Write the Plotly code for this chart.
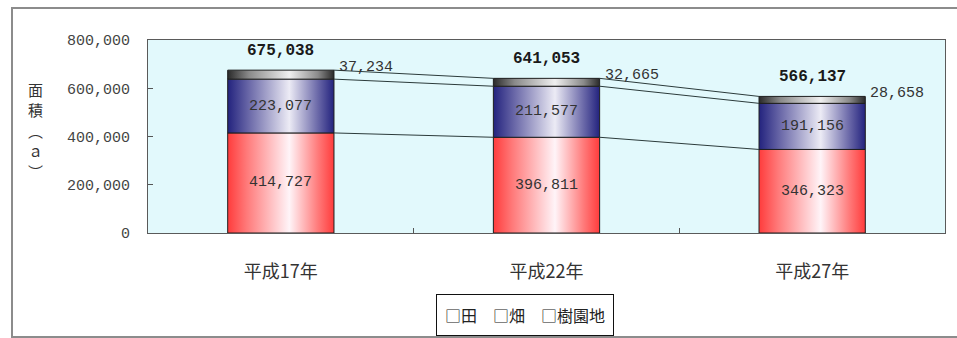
import plotly.graph_objects as go

# Cultivated land area by year (unit: a)
years = ["平成17年", "平成22年", "平成27年"]
paddy = [414727, 396811, 346323]      # 田
upland = [223077, 211577, 191156]     # 畑
orchard = [37234, 32665, 28658]       # 樹園地
series_names = ["田", "畑", "樹園地"]

y_ticks = [0, 200000, 400000, 600000, 800000]
axis_title_chars = ["面", "積", "︵", "ａ", "︶"]

HALF_W = 0.2  # half bar width in category units
num_font = "Liberation Mono, DejaVu Sans Mono, monospace"
jp_font = "Noto Sans CJK JP, sans-serif"

gradients = [
    [[0, "#ff3c3c"], [0.18, "#ff7a7a"], [0.58, "#fff4f8"], [0.85, "#ff7a7a"], [1, "#ff3c3c"]],
    [[0, "#23237e"], [0.2, "#6a68a8"], [0.58, "#ecebf5"], [0.85, "#6a68a8"], [1, "#23237e"]],
    [[0, "#2a2a2a"], [0.2, "#8a8a8a"], [0.58, "#f0f0f0"], [0.85, "#8a8a8a"], [1, "#2a2a2a"]],
]

stack = [paddy, upland, orchard]
fig = go.Figure()

# stacked cylinders drawn as filled polygons with a horizontal gradient
bottoms = [0, 0, 0]
tops_by_series = []
for s, values in enumerate(stack):
    tops = []
    for i, v in enumerate(values):
        y0 = bottoms[i]
        y1 = y0 + v
        x0, x1 = i - HALF_W, i + HALF_W
        fig.add_trace(go.Scatter(
            x=[x0, x1, x1, x0, x0], y=[y0, y0, y1, y1, y0],
            mode="lines", fill="toself",
            fillgradient=dict(type="horizontal", colorscale=gradients[s]),
            line=dict(color="#1e1e1e", width=1),
            name=series_names[s], showlegend=False, hoverinfo="skip",
        ))
        tops.append(y1)
        bottoms[i] = y1
    tops_by_series.append(tops)

# series lines joining the tops of each segment between neighbouring bars
for tops in tops_by_series:
    for i in range(len(years) - 1):
        fig.add_trace(go.Scatter(
            x=[i + HALF_W, i + 1 - HALF_W], y=[tops[i], tops[i + 1]],
            mode="lines", line=dict(color="#2b3b3b", width=1),
            showlegend=False, hoverinfo="skip",
        ))

# value labels
for i in range(len(years)):
    fig.add_annotation(x=i, y=paddy[i] / 2, text=f"{paddy[i]:,}", showarrow=False,
                       font=dict(family=num_font, size=15, color="#333333"))
    fig.add_annotation(x=i, y=paddy[i] + upland[i] / 2, text=f"{upland[i]:,}", showarrow=False,
                       font=dict(family=num_font, size=15, color="#333333"))
    total = paddy[i] + upland[i] + orchard[i]
    fig.add_annotation(x=i + HALF_W, y=total, text=f"{orchard[i]:,}", showarrow=False,
                       xanchor="left", yanchor="middle", xshift=3, yshift=3,
                       font=dict(family=num_font, size=15, color="#333333"))
    fig.add_annotation(x=i, y=total, text=f"<b>{total:,}</b>", showarrow=False,
                       yanchor="middle", yshift=19,
                       font=dict(family=num_font, size=16, color="#1a1a1a"))

# vertical axis title, one character per row
for k, ch in enumerate(axis_title_chars):
    fig.add_annotation(xref="paper", yref="paper", x=(35 - 148) / 797,
                       y=(233 - (89 + 20.5 * k)) / 193,
                       text=ch, showarrow=False, xanchor="center", yanchor="middle",
                       font=dict(family=jp_font, size=15, color="#333333"))

# legend box
legend_text = "　".join("□" + name for name in series_names)
fig.add_annotation(xref="paper", yref="paper", x=(524.5 - 148) / 797, y=(233 - 315) / 193,
                   text=legend_text, showarrow=False, xanchor="center", yanchor="middle",
                   bordercolor="#111111", borderwidth=1, borderpad=8, bgcolor="white",
                   font=dict(family=jp_font, size=16, color="#222222"))

# outer chart frame
fig.add_shape(type="rect", xref="paper", yref="paper",
              x0=(12 - 148) / 797, x1=1.05, y0=(233 - 337) / 193, y1=(233 - 8) / 193,
              line=dict(color="#8c8c8c", width=2), fillcolor="rgba(0,0,0,0)", layer="below")

fig.update_layout(
    width=957, height=338,
    margin=dict(l=148, r=12, t=40, b=105),
    paper_bgcolor="white",
    plot_bgcolor="#e2f9fc",
    showlegend=False,
    xaxis=dict(range=[-0.5, 2.5], tickvals=[0, 1, 2], ticktext=years,
               showgrid=False, zeroline=False, showline=True, mirror=True,
               linecolor="#5a5a5a", linewidth=1, ticks="", ticklen=0,
               ticklabelstandoff=22,
               minor=dict(tickvals=[0.5, 1.5], ticks="inside", ticklen=5, tickcolor="#555555"),
               tickfont=dict(family=jp_font, size=18, color="#333333")),
    yaxis=dict(range=[0, 800000], tickvals=y_ticks, tickformat=",",
               showgrid=False, zeroline=False, showline=True, mirror=True,
               linecolor="#5a5a5a", linewidth=1, ticks="inside", ticklen=5, tickcolor="#555555",
               ticklabelstandoff=14,
               tickfont=dict(family=num_font, size=15, color="#444444")),
)

fig.write_html("out.html")
